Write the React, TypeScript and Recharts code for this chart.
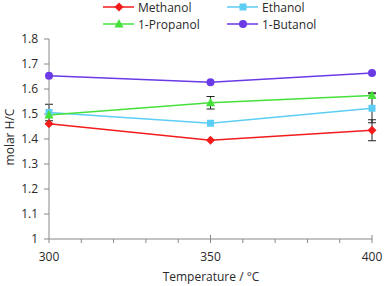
import React from 'react';
import { LineChart, Line, XAxis, YAxis, ErrorBar } from 'recharts';

const temps = [300, 350, 400];
const methanol = [1.461, 1.395, 1.435];
const ethanol = [1.506, 1.463, 1.523];
const propanol = [1.496, 1.545, 1.574];
const butanol = [1.653, 1.627, 1.664];

// error bar half-lengths (null = no bar visible)
const methanolErr = [null, null, 0.042];
const ethanolErr = [0.033, null, 0.058];
const propanolErr = [null, 0.025, 0.011];
const butanolErr = [null, null, null];

const xTicks = [300, 310, 320, 330, 340, 350, 360, 370, 380, 390, 400];
const xLabels = [300, 350, 400];
const yTicks = [1, 1.1, 1.2, 1.3, 1.4, 1.5, 1.6, 1.7, 1.8];

const FONT = '"Open Sans", sans-serif';
const FS = 12;
const TEXT = '#2a2a2a';
const AXIS = '#888';

const series = [
  { key: 'me', name: 'Methanol', color: '#f21c1c', shape: 'diamond', values: methanol, err: methanolErr },
  { key: 'et', name: 'Ethanol', color: '#5ccdf5', shape: 'square', values: ethanol, err: ethanolErr },
  { key: 'pr', name: '1-Propanol', color: '#45e03a', shape: 'triangle', values: propanol, err: propanolErr },
  { key: 'bu', name: '1-Butanol', color: '#6a3ae6', shape: 'circle', values: butanol, err: butanolErr },
];

const data = temps.map((t, i) => {
  const row: any = { t };
  series.forEach(s => {
    row[s.key] = s.values[i];
    row[s.key + 'Err'] = s.err[i];
  });
  return row;
});

const Marker = ({ cx, cy, shape, color }: any) => {
  if (cx == null || cy == null) return null;
  if (shape === 'diamond')
    return <polygon points={`${cx},${cy - 4.5} ${cx + 4.5},${cy} ${cx},${cy + 4.5} ${cx - 4.5},${cy}`} fill={color} />;
  if (shape === 'square') return <rect x={cx - 3.5} y={cy - 3.5} width={7} height={7} fill={color} />;
  if (shape === 'triangle')
    return <polygon points={`${cx},${cy - 5} ${cx + 4.5},${cy + 3.5} ${cx - 4.5},${cy + 3.5}`} fill={color} />;
  return <circle cx={cx} cy={cy} r={4} fill={color} />;
};

// tickSize/tickMargin are 0, so y here is the axis line itself
const XTick = ({ x, y, payload }: any) => {
  const v = payload.value;
  const major = xLabels.includes(v);
  return (
    <g>
      <line x1={x} x2={x} y1={major && v !== 300 ? y - 4 : y} y2={y + 4} stroke={AXIS} />
      {major && (
        <text x={x} y={y + 17} textAnchor="middle" dominantBaseline="central" fontSize={FS} fill={TEXT} fontFamily={FONT}>
          {v}
        </text>
      )}
    </g>
  );
};

const XLabel = () => (
  <text x={211} y={276} textAnchor="middle" dominantBaseline="central" fontSize={FS} fill={TEXT} fontFamily={FONT}>
    Temperature / °C
  </text>
);

const YLabel = () => (
  <text
    x={9}
    y={137}
    transform="rotate(-90, 9, 137)"
    textAnchor="middle"
    dominantBaseline="central"
    fontSize={FS}
    fill={TEXT}
    fontFamily={FONT}
  >
    molar H/C
  </text>
);

const Legend = () => {
  const cols = [103, 227];
  const rows = [7, 24];
  return (
    <svg width={384} height={36} style={{ position: 'absolute', left: 0, top: 0 }}>
      {series.map((s, i) => {
        const x = cols[i % 2];
        const y = rows[Math.floor(i / 2)];
        return (
          <g key={s.key}>
            <line x1={x} x2={x + 31} y1={y} y2={y} stroke={s.color} strokeWidth={1.5} />
            <Marker cx={x + 16} cy={y} shape={s.shape} color={s.color} />
            <text x={x + 35} y={y} dominantBaseline="central" fontSize={FS} fill={TEXT} fontFamily={FONT}>
              {s.name}
            </text>
          </g>
        );
      })}
    </svg>
  );
};

export default function App() {
  return (
    <div style={{ position: 'absolute', left: 0, top: 0, width: 384, height: 286, background: '#fff' }}>
      <LineChart width={384} height={286} data={data} margin={{ top: 39, right: 12, bottom: 0, left: 0 }}>
        <XAxis
          dataKey="t"
          type="number"
          domain={[300, 400]}
          ticks={xTicks}
          tick={<XTick />}
          tickLine={false}
          tickSize={0}
          tickMargin={0}
          axisLine={{ stroke: AXIS }}
          height={47}
          label={<XLabel />}
        />
        <YAxis
          type="number"
          domain={[1, 1.8]}
          ticks={yTicks}
          tickFormatter={v => String(Math.round(v * 10) / 10)}
          width={49}
          tickSize={5}
          tickMargin={6}
          tickLine={{ stroke: AXIS }}
          axisLine={{ stroke: AXIS }}
          tick={{ fontSize: FS, fill: TEXT, fontFamily: FONT }}
          label={<YLabel />}
        />
        {series.map(s => (
          <Line
            key={s.key}
            dataKey={s.key}
            name={s.name}
            stroke={s.color}
            strokeWidth={1.5}
            type="linear"
            isAnimationActive={false}
            dot={(p: any) => <Marker key={`${s.key}-${p.index}`} cx={p.cx} cy={p.cy} shape={s.shape} color={s.color} />}
          >
            <ErrorBar dataKey={s.key + 'Err'} width={4} stroke="#222" strokeWidth={1} direction="y" />
          </Line>
        ))}
      </LineChart>
      <Legend />
    </div>
  );
}
